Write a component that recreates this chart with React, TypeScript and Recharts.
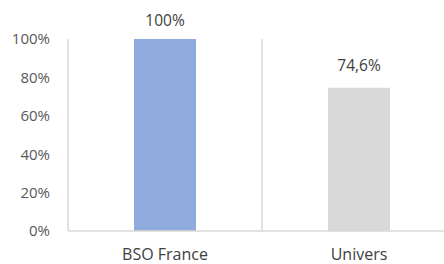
import React from 'react';
import { BarChart, Bar, XAxis, YAxis, CartesianGrid, Cell, LabelList } from 'recharts';

const categories = ['BSO France', 'Univers'];
const values = [1.0, 0.746];
const labels = ['100%', '74,6%'];
const colors = ['#8faadc', '#d9d9d9'];
const yTicks = [0, 0.2, 0.4, 0.6, 0.8, 1.0];

const data = categories.map((name, i) => ({ name, value: values[i], label: labels[i] }));

const FONT = '"Open Sans", sans-serif';

const BarLabel = (props: any) => {
  const { x, y, width, value } = props;
  const baseline = Math.max(y - 17, 26);
  return (
    <text
      x={x + width / 2}
      y={baseline}
      textAnchor="middle"
      fill="#404040"
      fontSize={15.5}
      fontFamily={FONT}
    >
      {value}
    </text>
  );
};

export default function App() {
  return (
    <div style={{ position: 'absolute', left: 0, top: 0, width: 444, height: 264, overflow: 'hidden' }}>
      <BarChart
        width={470}
        height={264}
        data={data}
        margin={{ top: 39, right: 14, bottom: 0, left: 0 }}
      >
        <CartesianGrid
          horizontal={false}
          vertical={true}
          stroke="#d9d9d9"
          strokeWidth={1.5}
          verticalCoordinatesGenerator={({ offset }: any) => [offset.left + offset.width / 2]}
        />
        <XAxis
          dataKey="name"
          axisLine={{ stroke: '#d9d9d9', strokeWidth: 1.5 }}
          tickLine={false}
          tickSize={0}
          tickMargin={18}
          height={33}
          tick={{ fill: '#404040', fontSize: 16, fontFamily: FONT }}
        />
        <YAxis
          domain={[0, 1]}
          ticks={yTicks}
          width={68}
          axisLine={{ stroke: '#d9d9d9', strokeWidth: 1.5 }}
          tickLine={false}
          tickSize={0}
          tickMargin={18}
          tickFormatter={(v: number) => `${Math.round(v * 100)}%`}
          tick={{ fill: '#595959', fontSize: 15, fontFamily: FONT }}
        />
        <Bar dataKey="value" barSize={62} isAnimationActive={false}>
          {data.map((d, i) => (
            <Cell key={d.name} fill={colors[i]} />
          ))}
          <LabelList dataKey="label" content={BarLabel} />
        </Bar>
      </BarChart>
    </div>
  );
}
